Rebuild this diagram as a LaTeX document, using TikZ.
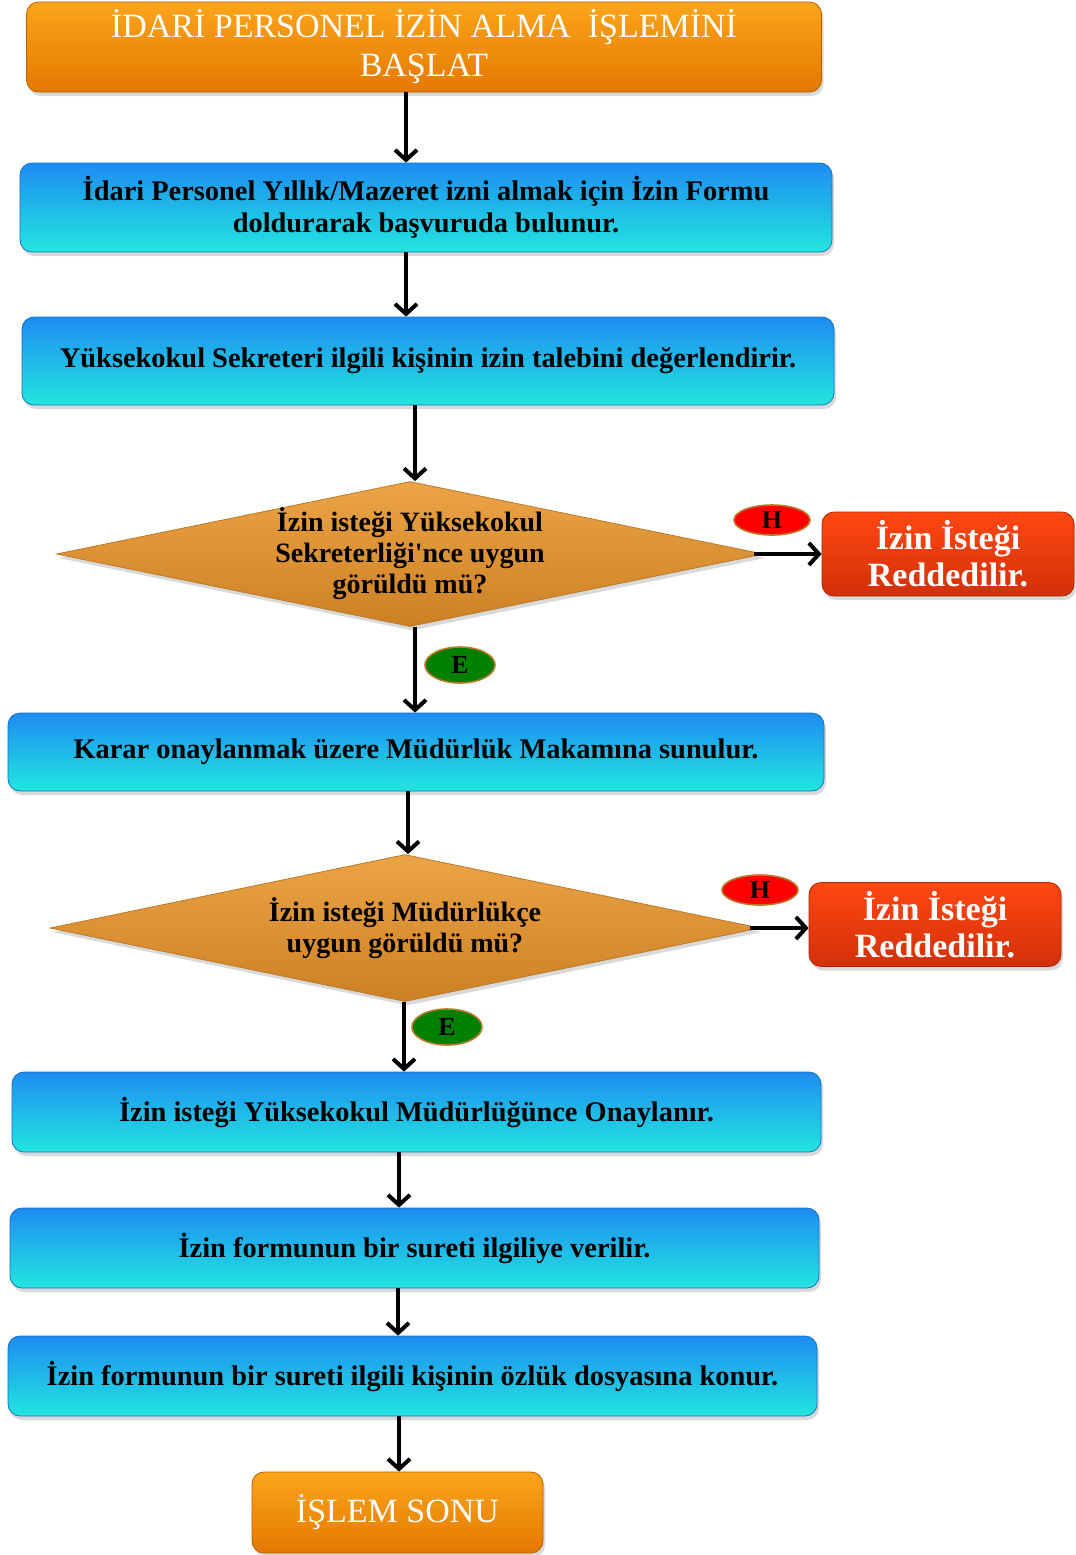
\documentclass[tikz,border=0pt]{standalone}
\usepackage{fontspec}
\setmainfont{Liberation Serif}[Ligatures=TeXOff]
\usetikzlibrary{shapes,arrows.meta,shadows}
\definecolor{orTop}{HTML}{FBA51C}
\definecolor{orBot}{HTML}{E47800}
\definecolor{blTop}{HTML}{1E8CF2}
\definecolor{blBot}{HTML}{22E6DE}
\definecolor{dmTop}{HTML}{EBA446}
\definecolor{dmBot}{HTML}{CC8024}
\definecolor{rdTop}{HTML}{FF4712}
\definecolor{rdBot}{HTML}{D2300A}
\definecolor{enTop}{HTML}{FF8A1E}
\definecolor{enBot}{HTML}{E56400}
\definecolor{rim}{HTML}{B87A2A}

\begin{document}
\begin{tikzpicture}[x=0.5pt,y=-0.5pt]
      \tikzstyle{shade} = [rounded corners=6pt, drop shadow={opacity=0.3,shadow xshift=1pt,shadow yshift=-2pt}]
      \tikzstyle{terminal} = [rectangle, shade, top color=orTop, bottom color=orBot, draw=orBot!80!black, thin,
                              text=white, align=center, font=\fontsize{17}{19.5}\selectfont]
      \tikzstyle{box} = [rectangle, shade, top color=blTop, bottom color=blBot, draw=blTop!80!black, thin,
                         minimum width=406pt, align=center, font=\bfseries\fontsize{14.2}{16}\selectfont]
      \tikzstyle{decision} = [diamond, inner sep=0pt, top color=dmTop, bottom color=dmBot, draw=rim, thin,
                              drop shadow={opacity=0.3,shadow xshift=1pt,shadow yshift=-2pt}]
      \tikzstyle{reject} = [rectangle, shade, top color=rdTop, bottom color=rdBot, draw=rdBot!80!black, thin,
                            text=white, align=center, font=\bfseries\fontsize{17}{18.5}\selectfont,
                            minimum width=126pt, minimum height=42pt]
      \tikzstyle{answer} = [ellipse, draw=rim, line width=0.8pt, inner sep=0pt,
                            font=\bfseries\fontsize{13}{13}\selectfont]
      \tikzstyle{line} = [line width=2pt, -{Straight Barb[length=5pt,width=11pt]}]
      \useasboundingbox (0,0) rectangle (1076,1555);
      % main column
      \node (start) [terminal, minimum width=397.5pt, minimum height=45pt] at (424,47)
            {İDARİ PERSONEL İZİN ALMA\ \ İŞLEMİNİ\\ BAŞLAT};
      \node (form) [box, minimum height=44.5pt] at (426,207.5)
            {İdari Personel Yıllık/Mazeret izni almak için İzin Formu\\ doldurarak başvuruda bulunur.};
      \node (secr) [box, minimum height=44pt] at (428,361)
            {Yüksekokul Sekreteri ilgili kişinin izin talebini değerlendirir.};
      \node (ask1) [decision, minimum width=353.5pt, minimum height=72.5pt,
            label={[align=center, font=\bfseries\fontsize{14}{15.5}\selectfont]center:{İzin isteği Yüksekokul\\ Sekreterliği'nce uygun\\ görüldü mü?}}] at (410,554) {};
      \node (present) [box, minimum width=408pt, minimum height=39pt] at (416,752)
            {Karar onaylanmak üzere Müdürlük Makamına sunulur.};
      \node (ask2) [decision, minimum width=355pt, minimum height=73.5pt,
            label={[align=center, font=\bfseries\fontsize{14}{15.5}\selectfont]center:{İzin isteği Müdürlükçe\\ uygun görüldü mü?}}] at (405,928) {};
      \node (approve) [box, minimum width=404.5pt, minimum height=40pt] at (416.5,1112)
            {İzin isteği Yüksekokul Müdürlüğünce Onaylanır.};
      \node (copy1) [box, minimum width=404.5pt, minimum height=40pt] at (414.5,1248)
            {İzin formunun bir sureti ilgiliye verilir.};
      \node (copy2) [box, minimum width=404.5pt, minimum height=40pt] at (412.5,1376)
            {İzin formunun bir sureti ilgili kişinin özlük dosyasına konur.};
      \node (stop) [terminal, minimum width=145.5pt, minimum height=40.5pt] at (397.5,1512.5)
            {İŞLEM SONU};
      % reject side
      \node (rej1) [reject] at (948,554) {İzin İsteği\\ Reddedilir.};
      \node (rej2) [reject] at (935,924.5) {İzin İsteği\\ Reddedilir.};
      % answers
      \node (no1) [answer, fill=red, minimum width=38pt, minimum height=15pt] at (772,520) {H};
      \node (yes1) [answer, fill=green!50!black, minimum width=35pt, minimum height=18pt] at (460,665) {E};
      \node (no2) [answer, fill=red, minimum width=38pt, minimum height=15pt] at (760,890) {H};
      \node (yes2) [answer, fill=green!50!black, minimum width=35pt, minimum height=18pt] at (447,1027) {E};
      % connectors
      \draw [line] (start.south -| 406,0) -- (form.north -| 406,0);
      \draw [line] (form.south -| 406,0) -- (secr.north -| 406,0);
      \draw [line] (secr.south -| 415,0) -- (ask1.north -| 415,0);
      \draw [line] (ask1.south -| 415,0) -- (present.north -| 415,0);
      \draw [line] ([xshift=-5pt]ask1.east) -- (ask1.east -| rej1.west);
      \draw [line] (present.south -| 408,0) -- (ask2.north -| 408,0);
      \draw [line] (ask2.south -| 404,0) -- (approve.north -| 404,0);
      \draw [line] ([xshift=-5pt]ask2.east) -- (ask2.east -| rej2.west);
      \draw [line] (approve.south -| 399,0) -- (copy1.north -| 399,0);
      \draw [line] (copy1.south -| 398,0) -- (copy2.north -| 398,0);
      \draw [line] (copy2.south -| 399,0) -- (stop.north -| 399,0);
\end{tikzpicture}
\end{document}
